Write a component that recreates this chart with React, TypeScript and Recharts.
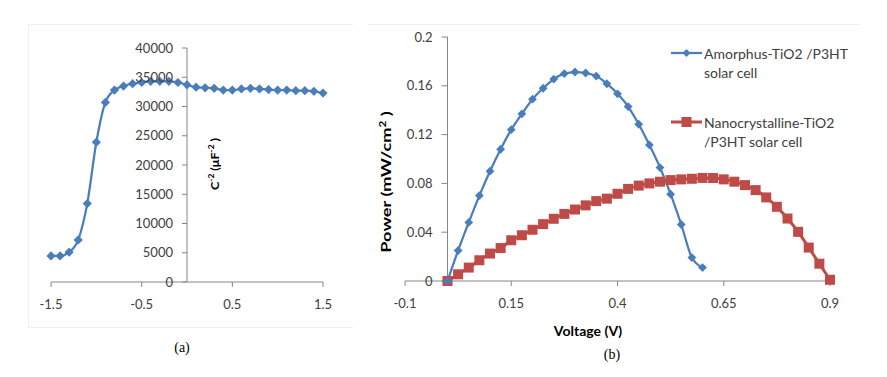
import React from 'react';
import { LineChart, Line, XAxis, YAxis, ReferenceLine } from 'recharts';

// panel (a): C^-2 vs voltage
const voltA = [-1.5, -1.4, -1.3, -1.2, -1.1, -1.0, -0.9, -0.8, -0.7, -0.6, -0.5, -0.4, -0.3, -0.2, -0.1, 0,
    0.1, 0.2, 0.3, 0.4, 0.5, 0.6, 0.7, 0.8, 0.9, 1.0, 1.1, 1.2, 1.3, 1.4, 1.5];
const capA = [4450, 4450, 5100, 7200, 13400, 23900, 30700, 32800, 33500, 33900, 34100, 34300, 34300, 34300, 34100, 33700,
    33300, 33200, 33100, 32800, 32800, 33000, 33100, 33000, 32900, 32800, 32800, 32700, 32700, 32600, 32300];
const ticksAX = [-1.5, -0.5, 0.5, 1.5];
const ticksAY = [0, 5000, 10000, 15000, 20000, 25000, 30000, 35000, 40000];

// panel (b): power vs voltage
const voltAmorph = [0, 0.025, 0.05, 0.075, 0.1, 0.125, 0.15, 0.175, 0.2, 0.225, 0.25, 0.275, 0.3, 0.325, 0.35,
    0.375, 0.4, 0.425, 0.45, 0.475, 0.5, 0.525, 0.55, 0.575, 0.6];
const powerAmorph = [0, 0.025, 0.048, 0.07, 0.09, 0.108, 0.124, 0.137, 0.149, 0.158, 0.1655, 0.17, 0.1713, 0.1705, 0.168,
    0.1617, 0.1534, 0.143, 0.1285, 0.1115, 0.093, 0.0712, 0.0463, 0.0192, 0.011];
const voltNano = [0, 0.025, 0.05, 0.075, 0.1, 0.125, 0.15, 0.175, 0.2, 0.225, 0.25, 0.275, 0.3, 0.325, 0.35, 0.375,
    0.4, 0.425, 0.45, 0.475, 0.5, 0.525, 0.55, 0.575, 0.6, 0.625, 0.65, 0.675, 0.7, 0.725, 0.75, 0.775, 0.8, 0.825,
    0.85, 0.875, 0.9];
const powerNano = [0, 0.0055, 0.011, 0.017, 0.0225, 0.027, 0.0334, 0.0375, 0.042, 0.0466, 0.051, 0.055, 0.0586, 0.062,
    0.0655, 0.0675, 0.0715, 0.0755, 0.0782, 0.08, 0.0814, 0.0827, 0.0833, 0.0838, 0.0845, 0.0844, 0.0833, 0.0814,
    0.0786, 0.0745, 0.0685, 0.0608, 0.0512, 0.0403, 0.0274, 0.0142, 0.001];
const ticksBX = [-0.1, 0.15, 0.4, 0.65, 0.9];
const ticksBY = [0, 0.04, 0.08, 0.12, 0.16, 0.2];

const seriesNames = ['Amorphus-TiO2 /P3HT', 'solar cell', 'Nanocrystalline-TiO2', '/P3HT solar cell'];

const capTable = voltA.map((v, i) => ({ v, c: capA[i] }));
const amorphTable = voltAmorph.map((v, i) => ({ v, p: powerAmorph[i] }));
const nanoTable = voltNano.map((v, i) => ({ v, p: powerNano[i] }));

const BLUE = '#4a7ebb';
const RED = '#be4b48';
const AXIS = '#868686';
const TXT = '#404040';
const FONT = 'Lato, "Open Sans", sans-serif';

const tickStyle = { fill: TXT, fontSize: 13, fontFamily: FONT };

const diamond = (color: string, r: number) => (p: any) => {
    if (p.cx == null || p.cy == null) return <g key={`d-${p.index}`} />;
    return <path key={`d-${p.index}`} d={`M${p.cx},${p.cy - r}L${p.cx + r},${p.cy}L${p.cx},${p.cy + r}L${p.cx - r},${p.cy}Z`} fill={color} />;
};

const square = (color: string, s: number) => (p: any) => {
    if (p.cx == null || p.cy == null) return <g key={`s-${p.index}`} />;
    return <rect key={`s-${p.index}`} x={p.cx - s / 2} y={p.cy - s / 2} width={s} height={s} fill={color} />;
};

// vertical axis drawn at x = 0, with ticks and labels in data units
const axisAtZero = (ticks: number[], tickLen: number, fmt: (t: number) => string) => [
    <ReferenceLine key="yaxis" x={0} stroke={AXIS} strokeWidth={1} />,
    ...ticks.map((t) => (
        <ReferenceLine
            key={`yt-${t}`}
            segment={[{ x: -tickLen, y: t }, { x: 0, y: t }]}
            stroke={AXIS}
            strokeWidth={1}
            ifOverflow="visible"
            label={{ value: fmt(t), position: 'left', offset: 9, ...tickStyle }}
        />
    )),
];

const rotLabel = (cx: number, cy: number, size: number, stretch: number, children: React.ReactNode) => (
    <div style={{
        position: 'absolute', left: cx, top: cy,
        transform: `translate(-50%, -50%) rotate(-90deg) scaleX(${stretch})`,
        whiteSpace: 'nowrap', fontFamily: FONT, fontWeight: 700, fontSize: size, color: '#000', lineHeight: 1
    }}>{children}</div>
);

const LegendRow = ({ top, color, shape, lines }: { top: number; color: string; shape: 'diamond' | 'square'; lines: string[] }) => (
    <div style={{ position: 'absolute', left: 671, top }}>
        <svg width={32} height={12} style={{ position: 'absolute', left: 0, top: 3 }}>
            <line x1={0} y1={6} x2={31} y2={6} stroke={color} strokeWidth={shape === 'square' ? 3 : 2.25} />
            {shape === 'diamond'
                ? <path d="M15.5,2L19.5,6L15.5,10L11.5,6Z" fill={color} />
                : <rect x={10.5} y={1} width={10} height={10} fill={color} />}
        </svg>
        <div style={{ position: 'absolute', left: 33, top: 0, fontFamily: FONT, fontSize: 14, color: TXT, lineHeight: '19px', whiteSpace: 'nowrap' }}>
            {lines.map((l) => <div key={l}>{l}</div>)}
        </div>
    </div>
);

const App: React.FC = () => {
    return (
        <div style={{ position: 'absolute', left: 0, top: 0, width: 887, height: 377, background: '#fff', overflow: 'hidden' }}>
            {/* faint frames */}
            <div style={{ position: 'absolute', left: 28, top: 24, width: 324, height: 302, borderTop: '1px solid #f0f0f0', borderLeft: '1px solid #f0f0f0', borderBottom: '1px solid #f0f0f0' }} />
            <div style={{ position: 'absolute', left: 368, top: 24, width: 492, borderTop: '1px solid #f0f0f0' }} />

            {/* (a) */}
            <div style={{ position: 'absolute', left: 0, top: 0 }}>
                <LineChart width={360} height={377} data={capTable} margin={{ top: 48, right: 37, bottom: 65, left: 51 }}>
                    <XAxis
                        dataKey="v"
                        type="number"
                        domain={[-1.5, 1.5]}
                        ticks={ticksAX}
                        interval={0}
                        height={30}
                        stroke={AXIS}
                        tickSize={5}
                        tickMargin={13}
                        tick={tickStyle}
                    />
                    <YAxis hide domain={[0, 40000]} ticks={ticksAY} />
                    {axisAtZero(ticksAY, 0.055, (t) => String(t))}
                    <Line
                        dataKey="c"
                        type="monotone"
                        stroke={BLUE}
                        strokeWidth={2.25}
                        dot={diamond(BLUE, 4.6)}
                        activeDot={false}
                        isAnimationActive={false}
                    />
                </LineChart>
            </div>
            {rotLabel(214, 164, 12, 1.05, <span>C<sup style={{ fontSize: 8 }}>-2</sup> (μF<sup style={{ fontSize: 8 }}>-2</sup> )</span>)}
            <div style={{ position: 'absolute', left: 182, top: 348, transform: 'translate(-50%, -50%)', fontFamily: '"Liberation Serif", serif', fontSize: 14, color: '#000' }}>(a)</div>

            {/* (b) */}
            <div style={{ position: 'absolute', left: 360, top: 0 }}>
                <LineChart width={527} height={377} margin={{ top: 37, right: 57, bottom: 66, left: 45 }}>
                    <XAxis
                        dataKey="v"
                        type="number"
                        domain={[-0.1, 0.9]}
                        ticks={ticksBX}
                        interval={0}
                        height={30}
                        stroke={AXIS}
                        tickSize={5}
                        tickMargin={13}
                        tick={tickStyle}
                        allowDuplicatedCategory={false}
                    />
                    <YAxis hide domain={[0, 0.2]} ticks={ticksBY} />
                    {axisAtZero(ticksBY, 0.014, (t) => String(t))}
                    <Line
                        data={nanoTable}
                        dataKey="p"
                        type="monotone"
                        stroke={RED}
                        strokeWidth={3}
                        dot={square(RED, 10)}
                        activeDot={false}
                        isAnimationActive={false}
                    />
                    <Line
                        data={amorphTable}
                        dataKey="p"
                        type="monotone"
                        stroke={BLUE}
                        strokeWidth={2.25}
                        dot={diamond(BLUE, 4.4)}
                        activeDot={false}
                        isAnimationActive={false}
                    />
                </LineChart>
            </div>
            {rotLabel(385, 182, 14, 1.3, <span>Power (mW/cm<sup style={{ fontSize: 9 }}>2</sup> )</span>)}
            <div style={{ position: 'absolute', left: 588, top: 330, transform: 'translate(-50%, -50%)', fontFamily: FONT, fontWeight: 700, fontSize: 14, color: '#000', whiteSpace: 'nowrap' }}>Voltage (V)</div>
            <div style={{ position: 'absolute', left: 612, top: 355, transform: 'translate(-50%, -50%)', fontFamily: '"Liberation Serif", serif', fontSize: 14, color: '#000' }}>(b)</div>

            <LegendRow top={44} color={BLUE} shape="diamond" lines={[seriesNames[0], seriesNames[1]]} />
            <LegendRow top={113} color={RED} shape="square" lines={[seriesNames[2], seriesNames[3]]} />
        </div>
    );
};

export default App;
